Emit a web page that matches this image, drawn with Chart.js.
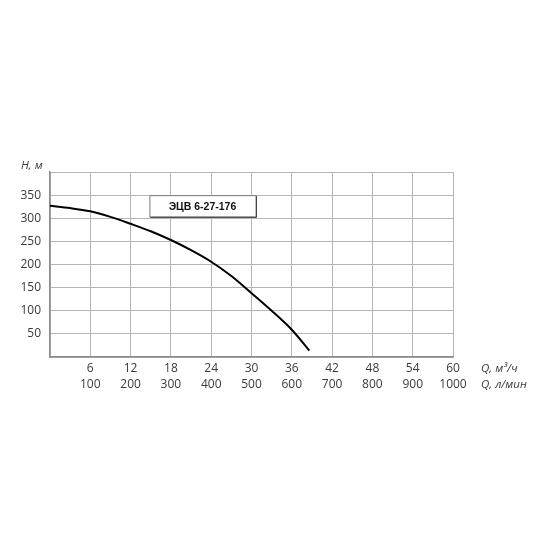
<!DOCTYPE html>
<html>
<head>
<meta charset="utf-8">
<script src="https://cdn.jsdelivr.net/npm/chart.js@4.4.1/dist/chart.umd.min.js"></script>
<style>
html,body{margin:0;padding:0;background:#fff;}
#wrap{width:550px;height:550px;position:relative;}
</style>
</head>
<body>
<div id="wrap"><canvas id="c" width="550" height="550"></canvas></div>
<script>
// ---- data ----
const seriesName = 'ЭЦВ 6-27-176';
const flowM3h = [0, 3, 6, 9, 12, 15, 18, 21, 24, 27, 30, 33, 36, 38.6];
const headM   = [327, 322, 315, 303, 288, 272, 253, 231, 206, 175, 138, 100, 59, 14];
const xTickM3h = [6, 12, 18, 24, 30, 36, 42, 48, 54, 60];
const xTickLpm = [100, 200, 300, 400, 500, 600, 700, 800, 900, 1000];
const yTickLabels = [50, 100, 150, 200, 250, 300, 350];
const yAxisTitle = 'H, м';
const xAxisTitles = ['Q, м³/ч', 'Q, л/мин'];

const points = flowM3h.map((q, i) => ({x: q, y: headM[i]}));
const textColor = '#3a3a3a';
const fontFam = '"Open Sans", "DejaVu Sans", sans-serif';

const overlay = {
  id: 'overlay',
  afterDraw(chart) {
    const ctx = chart.ctx;
    const xs = chart.scales.x, ys = chart.scales.y;
    const area = chart.chartArea;
    ctx.save();
    // legend box
    const l = xs.getPixelForValue(14.8), r = xs.getPixelForValue(30.6);
    const t = ys.getPixelForValue(350), b = ys.getPixelForValue(304);
    ctx.fillStyle = '#fff';
    ctx.fillRect(l, t, r - l, b - t);
    ctx.strokeStyle = '#777';
    ctx.lineWidth = 1;
    ctx.strokeRect(l + 0.5, t + 0.5, r - l, b - t);
    ctx.strokeStyle = '#444';
    ctx.beginPath();
    ctx.moveTo(r + 1, t + 1); ctx.lineTo(r + 1, b + 1); ctx.lineTo(l + 1, b + 1);
    ctx.stroke();
    ctx.fillStyle = '#111';
    ctx.font = 'bold 10.5px "Liberation Sans", Arial, sans-serif';
    ctx.textAlign = 'center';
    ctx.textBaseline = 'middle';
    ctx.fillText(chart.data.datasets[0].label, (l + r) / 2, (t + b) / 2 + 1);
    // axis titles
    ctx.fillStyle = textColor;
    ctx.font = 'italic 11.5px ' + fontFam;
    ctx.textAlign = 'left';
    ctx.fillText(yAxisTitle, 21, area.top - 6);
    const tx = area.right + 28;
    ctx.fillText(xAxisTitles[0], tx, area.bottom + 12);
    ctx.fillText(xAxisTitles[1], tx, area.bottom + 28);
    ctx.restore();
  }
};

new Chart(document.getElementById('c'), {
  type: 'line',
  data: {
    datasets: [{
      label: seriesName,
      data: points,
      borderColor: '#000',
      borderWidth: 2,
      pointRadius: 0,
      fill: false,
      tension: 0.3
    }]
  },
  options: {
    responsive: false,
    animation: false,
    devicePixelRatio: 1,
    layout: {padding: {top: 172, right: 97, left: 0, bottom: 0}},
    plugins: {legend: {display: false}, tooltip: {enabled: false}},
    scales: {
      x: {
        type: 'linear', min: 0, max: 60,
        afterFit(s) { s.height = 193; },
        grid: {color: '#b5b5b5', drawTicks: false, lineWidth: 1},
        border: {color: '#8c8c8c', width: 1.5},
        ticks: {
          stepSize: 6, padding: 4, maxRotation: 0, autoSkip: false,
          color: textColor,
          font: {family: fontFam, size: 12, lineHeight: '16px'},
          callback(v) {
            const i = xTickM3h.indexOf(v);
            return i < 0 ? '' : [String(xTickM3h[i]), String(xTickLpm[i])];
          }
        }
      },
      y: {
        type: 'linear', min: 0, max: 400,
        afterFit(s) { s.width = 50; },
        grid: {color: '#b5b5b5', drawTicks: false, lineWidth: 1},
        border: {color: '#8c8c8c', width: 1.5},
        ticks: {
          stepSize: 50, padding: 9, autoSkip: false,
          color: textColor,
          font: {family: fontFam, size: 12},
          callback(v) { return yTickLabels.includes(v) ? String(v) : ''; }
        }
      }
    }
  },
  plugins: [overlay]
});
</script>
</body>
</html>
